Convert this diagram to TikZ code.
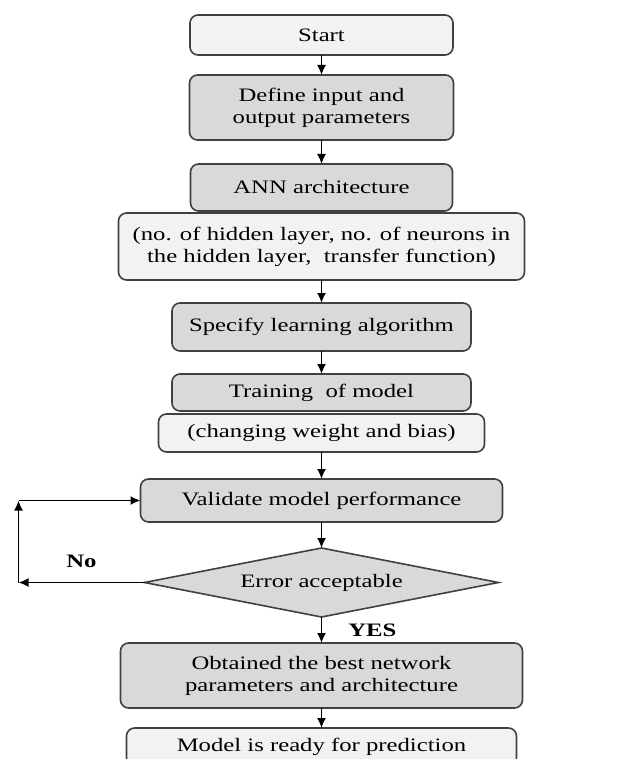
\documentclass[tikz,border=0pt]{standalone}
\usepackage{fontspec}
\setmainfont{Liberation Serif}[FakeStretch=1.3]
\usepackage{tikz}
\usetikzlibrary{arrows.meta,positioning,shapes.geometric}
\definecolor{edge}{HTML}{404040}
\definecolor{shade}{HTML}{D9D9D9}
\definecolor{pale}{HTML}{F2F2F2}

\begin{document}
\begin{tikzpicture}[x=1pt,y=1pt,node distance=23pt,>={Latex[length=10pt,width=9pt]},
 box/.style={draw=edge,line width=1.6pt,rounded corners=8pt,align=center,inner sep=2pt,outer sep=0pt,font=\fontsize{19}{22}\selectfont},
 flow/.style={->,line width=1.7pt},
 lbl/.style={font=\fontsize{19}{22}\selectfont\bfseries,inner sep=0pt}]
 \useasboundingbox (0,0) rectangle (619,-759);
 \node[box,fill=pale,minimum width=263pt,minimum height=40pt] (start) at (321.5,-35) {Start};
 \node[box,fill=shade,minimum width=264pt,minimum height=65pt,below=20pt of start] (def) {Define input and\\output parameters};
 \node[box,fill=shade,minimum width=262pt,minimum height=47pt,below=24pt of def] (ann) {ANN architecture};
 \node[box,fill=pale,minimum width=406pt,minimum height=67pt,below=2pt of ann] (hid) {(no. of hidden layer, no. of neurons in\\the hidden layer,~ transfer function)};
 \node[box,fill=shade,minimum width=299pt,minimum height=48pt,below=of hid] (spec) {Specify learning algorithm};
 \node[box,fill=shade,minimum width=299pt,minimum height=37pt,below=of spec] (train) {Training~ of model};
 \node[box,fill=pale,minimum width=326pt,minimum height=38pt,below=3pt of train] (chg) {(changing weight and bias)};
 \node[box,fill=shade,minimum width=362pt,minimum height=43pt,below=27pt of chg] (val) {Validate model performance};
 \node[box,diamond,rounded corners=0pt,aspect=5.1,inner sep=0pt,fill=shade,minimum width=354pt,minimum height=69pt,below=26pt of val] (err) {Error acceptable};
 \node[box,fill=shade,minimum width=402pt,minimum height=65pt,below=26pt of err] (best) {Obtained the best network\\parameters and architecture};
 \node[box,fill=pale,minimum width=390pt,minimum height=38pt,below=20pt of best] (ready) {Model is ready for prediction};
 \foreach \a/\b in {start/def,def/ann,hid/spec,spec/train,chg/val,val/err,best/ready}
  \draw[flow] (\a) -- (\b);
 % loop back when the error is too large
 \coordinate[left=126pt of err.west] (fbl);
 \coordinate (fbt) at (fbl |- val.west);
 \draw[flow] (err.west) -- node[lbl,above=14pt] (no) {No} (fbl);
 \draw[flow] (fbl) -- (fbt);
 \draw[flow] (fbt) -- (val.west);
 \draw[flow] (err) -- node[lbl,right=26pt] (yes) {YES} (best);
\end{tikzpicture}
\end{document}
